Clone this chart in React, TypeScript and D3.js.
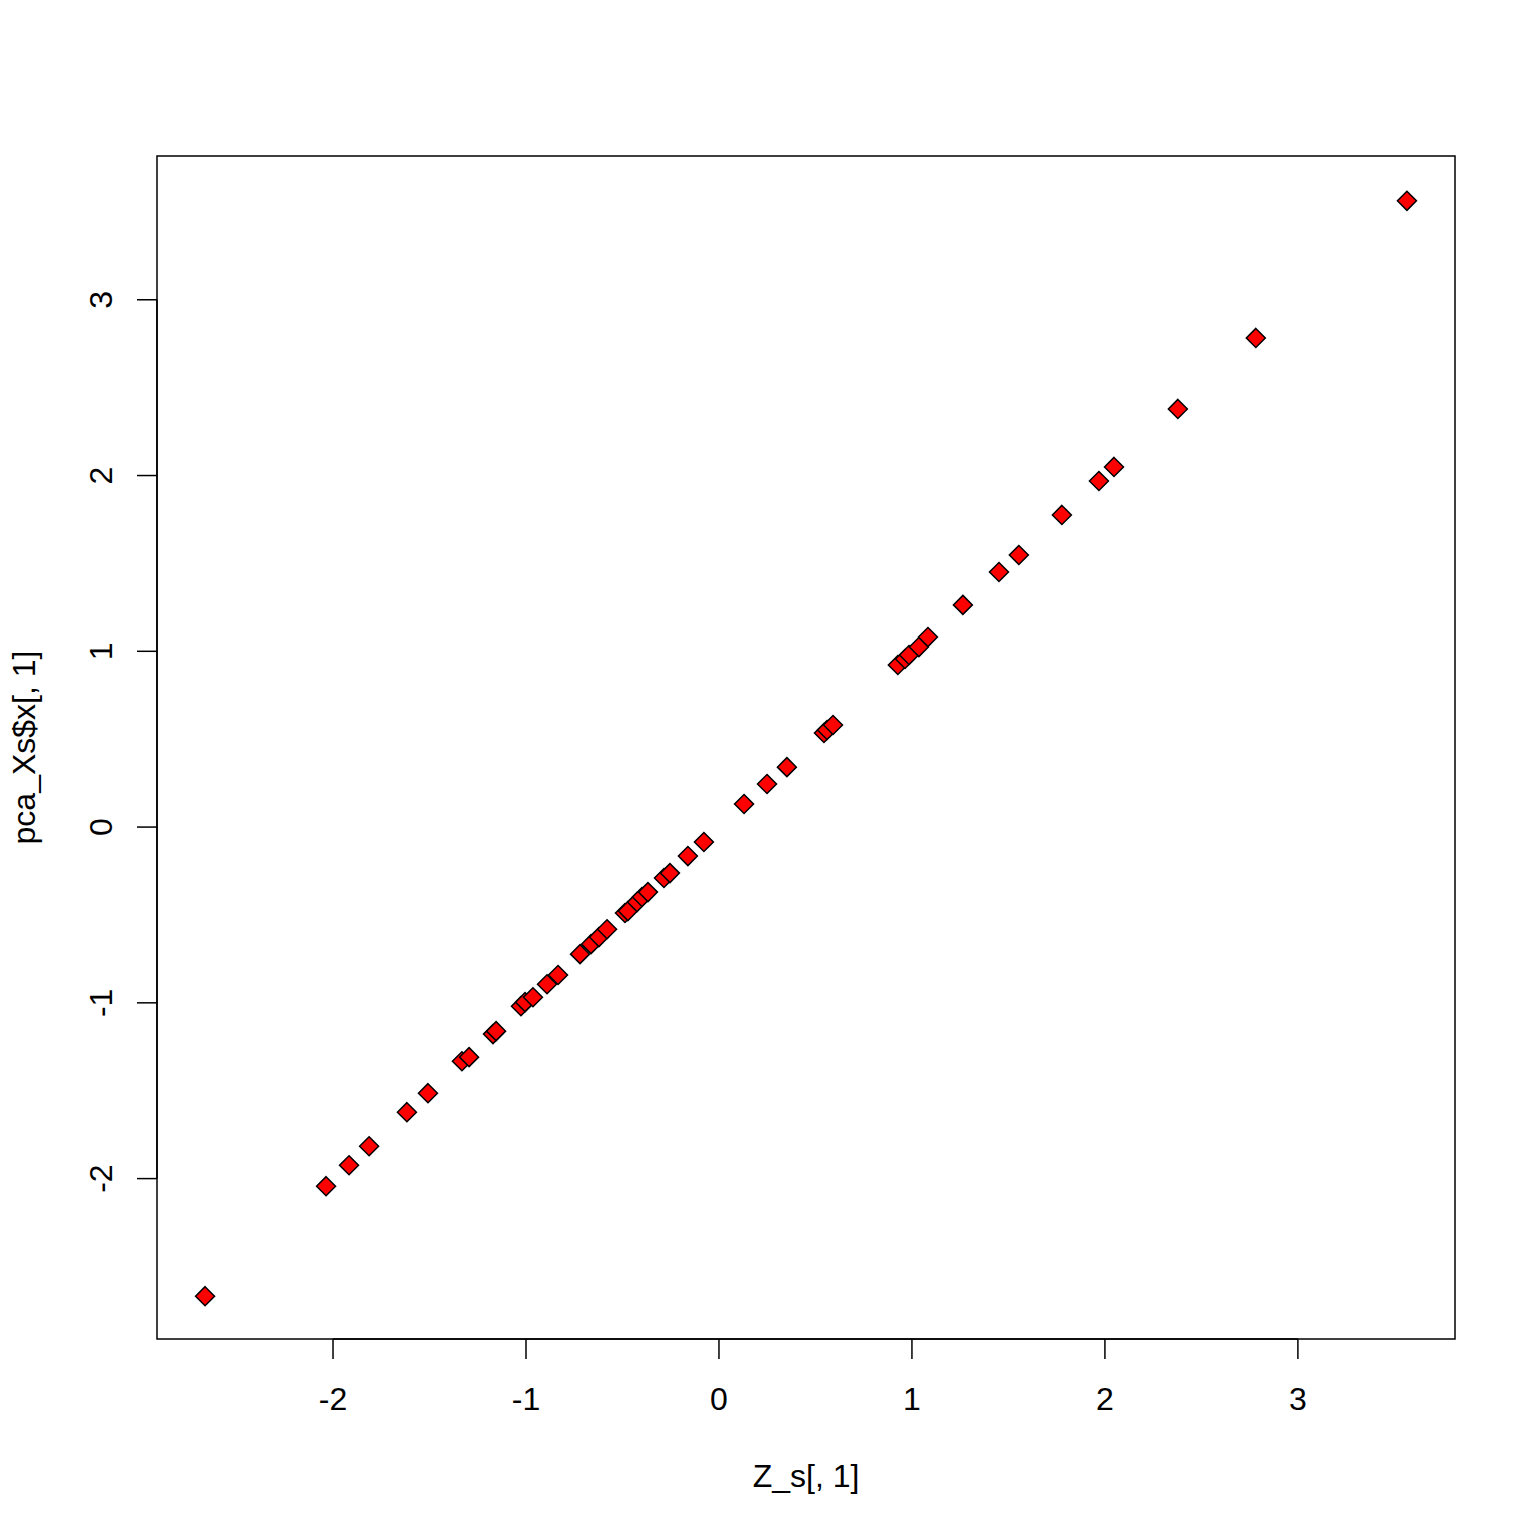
import React from "react";
import * as d3 from "d3";

const xVals = [-2.663, -2.036, -1.917, -1.813, -1.617, -1.508, -1.332, -1.295, -1.171, -1.155, -1.026, -1.005, -0.964, -0.891, -0.834, -0.72, -0.663, -0.622, -0.58, -0.487, -0.472, -0.425, -0.399, -0.368, -0.285, -0.254, -0.161, -0.078, 0.13, 0.249, 0.352, 0.544, 0.56, 0.591, 0.927, 0.964, 0.985, 1.036, 1.083, 1.264, 1.451, 1.554, 1.777, 1.969, 2.047, 2.378, 2.782, 3.565];
const yVals = [-2.669, -2.043, -1.924, -1.816, -1.622, -1.514, -1.332, -1.309, -1.178, -1.161, -1.019, -0.996, -0.968, -0.894, -0.842, -0.723, -0.666, -0.626, -0.581, -0.489, -0.478, -0.427, -0.398, -0.37, -0.29, -0.262, -0.165, -0.085, 0.131, 0.245, 0.341, 0.535, 0.552, 0.581, 0.922, 0.956, 0.979, 1.024, 1.081, 1.264, 1.451, 1.548, 1.776, 1.969, 2.049, 2.379, 2.783, 3.563];
const xTicks = [-2, -1, 0, 1, 2, 3];
const yTicks = [-2, -1, 0, 1, 2, 3];
const xLabel = "Z_s[, 1]";
const yLabel = "pca_Xs$x[, 1]";

const FONT = "'Liberation Sans', Arial, Helvetica, sans-serif";

function ext(v: number[]): [number, number] {
  const [a, b] = d3.extent(v) as [number, number];
  const d = (b - a) * 0.04;
  return [a - d, b + d];
}

export default function App() {
  const left = 157, right = 1455, top = 156, bottom = 1339;
  const x = d3.scaleLinear().domain(ext(xVals)).range([left, right]);
  const y = d3.scaleLinear().domain(ext(yVals)).range([bottom + 1, top + 1]);
  const tick = 20;
  const r = 9.5;
  const fs = 32;
  const diamond = `M0,${-r}L${r},0L0,${r}L${-r},0Z`;
  return (
    <svg width={1536} height={1536} style={{ position: "absolute", left: 0, top: 0, background: "#fff" }} fontFamily={FONT}>
      <rect x={0} y={0} width={1536} height={1536} fill="#fff" />
      <rect x={left} y={top} width={right - left} height={bottom - top} fill="none" stroke="#000" strokeWidth={1.5} />
      {/* x axis */}
      <line x1={x(xTicks[0])} x2={x(xTicks[xTicks.length - 1])} y1={bottom} y2={bottom} stroke="#000" strokeWidth={1.5} />
      {xTicks.map((t) => (
        <g key={"x" + t}>
          <line x1={x(t)} x2={x(t)} y1={bottom} y2={bottom + tick} stroke="#000" strokeWidth={1.5} />
          <text x={x(t)} y={1410} fontSize={fs} textAnchor="middle">{t}</text>
        </g>
      ))}
      {/* y axis */}
      <line x1={left} x2={left} y1={y(yTicks[0])} y2={y(yTicks[yTicks.length - 1])} stroke="#000" strokeWidth={1.5} />
      {yTicks.map((t) => (
        <g key={"y" + t}>
          <line x1={left} x2={left - tick} y1={y(t)} y2={y(t)} stroke="#000" strokeWidth={1.5} />
          <text transform={`translate(${112},${y(t)}) rotate(-90)`} fontSize={fs} textAnchor="middle">{t}</text>
        </g>
      ))}
      <text x={(left + right) / 2} y={1487} fontSize={fs} textAnchor="middle">{xLabel}</text>
      <text transform={`translate(${35},${(top + bottom) / 2}) rotate(-90)`} fontSize={fs} textAnchor="middle">{yLabel}</text>
      {xVals.map((v, i) => (
        <path key={i} d={diamond} transform={`translate(${x(v)},${y(yVals[i])})`} fill="#ff0000" stroke="#000" strokeWidth={1.5} />
      ))}
    </svg>
  );
}
